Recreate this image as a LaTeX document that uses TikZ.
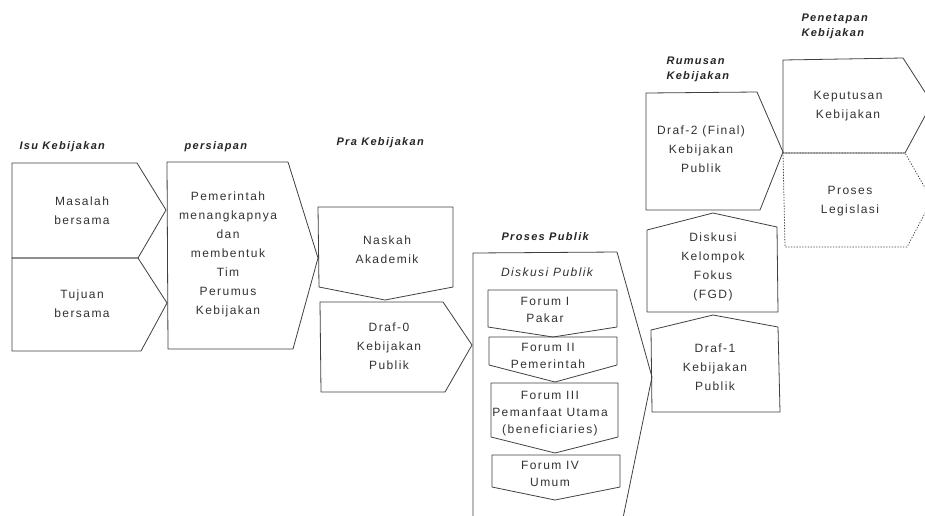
\documentclass[tikz,border=0pt]{standalone}
\usepackage{fontspec}
\setmainfont{Liberation Sans}[LetterSpace=12]
\begin{document}
\begin{tikzpicture}[x=1pt,y=-1pt,line join=round,line cap=round,
    box/.style={draw=black!75,line width=.8pt},
    txt/.style={align=center,text=black!80,font=\fontsize{12}{19}\selectfont},
    ftxt/.style={align=center,text=black!80,font=\fontsize{12}{17}\selectfont},
    head/.style={anchor=west,align=left,text=black!85,font=\fontsize{11}{15}\selectfont\bfseries\itshape}]
    \clip (0,0) rectangle (925,515);
    \fill[white] (0,0) rectangle (925,515);
    \draw[box] (12,163)--(137,163)--(166,210)--(138,258)--(12,258)--cycle;
    \draw[box] (12,258)--(138,258)--(167,303)--(141,351)--(12,351)--cycle;
    \draw[box] (167,162)--(288,162)--(318,258)--(293,349)--(168,349)--cycle;
    \draw[box] (318,207)--(453,207)--(453,287)--(385,300)--(319,287)--cycle;
    \draw[box] (320,302)--(443,302)--(472,345)--(445,392)--(321,392)--cycle;
    \draw[box] (473,518)--(473,253)--(617,252)--(652,377)--(623,518);
    \draw[box] (488,290)--(617,290)--(617,327)--(553,337)--(488,327)--cycle;
    \draw[box] (489,337)--(617,337)--(617,365)--(555,382)--(489,365)--cycle;
    \draw[box] (491,383)--(618,383)--(618,437)--(555,453)--(491,437)--cycle;
    \draw[box] (492,455)--(620,455)--(620,487)--(555,500)--(492,487)--cycle;
    \draw[box] (646,93)--(757,92)--(783,152)--(760,210)--(646,210)--cycle;
    \draw[box] (783,60)--(903,58)--(932,103)--(905,153)--(783,153)--cycle;
    \draw[box,dotted] (783,153)--(905,153)--(932,200)--(907,247)--(785,247)--cycle;
    \draw[box] (647,312)--(647,230)--(713,213)--(777,227)--(778,312)--cycle;
    \draw[box] (652,412)--(651,330)--(713,315)--(778,327)--(780,412)--cycle;

    \node[head] (isu) at (16,147) {Isu Kebijakan};
    \node[head] (persiapan) at (181,147) {persiapan};
    \node[head] (pra) at (333,143) {Pra Kebijakan};
    \node[head] (proses) at (498,237) {Proses Publik};
    \node[head] (rumusan) at (663,69) {Rumusan\\Kebijakan};
    \node[head] (penetapan) at (798,26) {Penetapan\\Kebijakan};

    \node[txt] (masalah) at (82,211) {Masalah\\bersama};
    \node[txt] (tujuan) at (82,304) {Tujuan\\bersama};
    \node[txt] (pemerintah) at (228,254) {Pemerintah\\menangkapnya\\dan\\membentuk\\Tim\\Perumus\\Kebijakan};
    \node[txt] (naskah) at (387,250) {Naskah\\Akademik};
    \node[txt] (draf0) at (389,346) {Draf-0\\Kebijakan\\Publik};
    \node[txt,font=\fontsize{12}{19}\selectfont\itshape] (diskusi) at (547,272) {Diskusi Publik};
    \node[ftxt] (forum1) at (545,310) {Forum I\\Pakar};
    \node[ftxt] (forum2) at (548,356) {Forum II\\Pemerintah};
    \node[ftxt] (forum3) at (550,414) {Forum III\\Pemanfaat Utama\\(beneficiaries)};
    \node[ftxt] (forum4) at (550,474) {Forum IV\\Umum};
    \node[txt] (draf2) at (701,149) {Draf-2 (Final)\\Kebijakan\\Publik};
    \node[txt] (keputusan) at (848,106) {Keputusan\\Kebijakan};
    \node[txt] (legislasi) at (850,201) {Proses\\Legislasi};
    \node[txt] (fgd) at (713,267) {Diskusi\\Kelompok\\Fokus\\(FGD)};
    \node[txt] (draf1) at (715,367) {Draf-1\\Kebijakan\\Publik};
\end{tikzpicture}
\end{document}
